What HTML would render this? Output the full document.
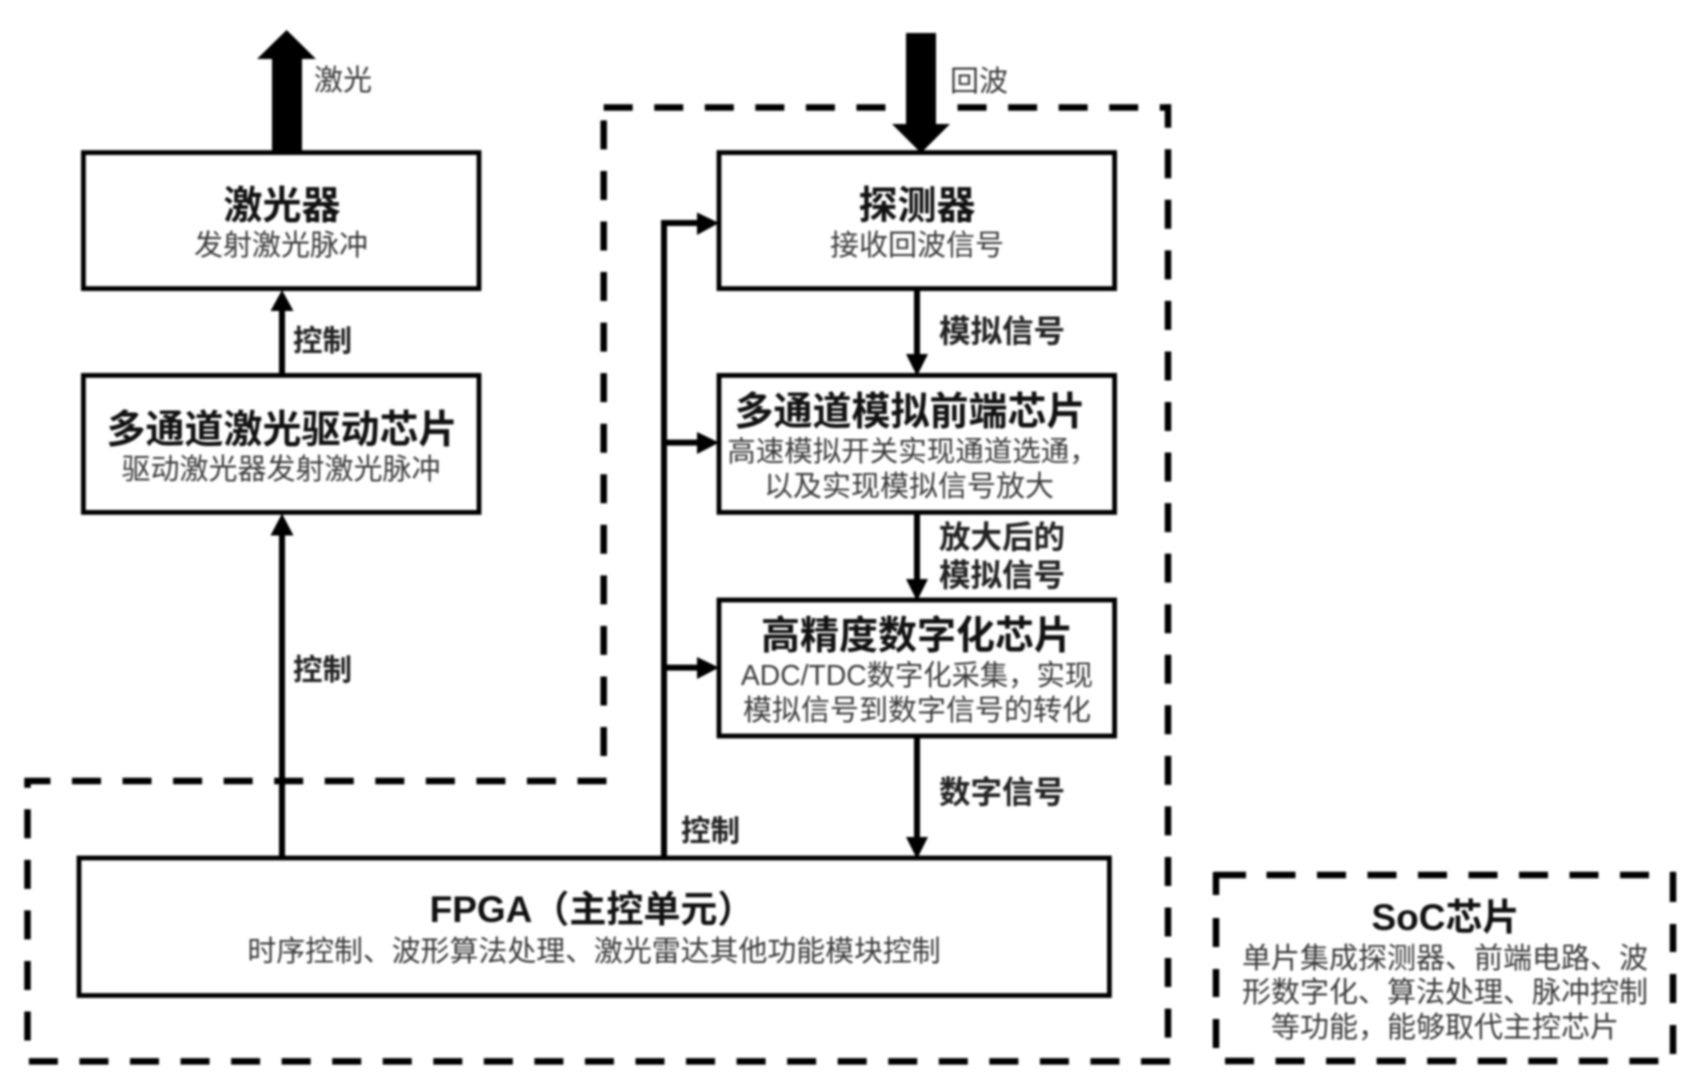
<!DOCTYPE html>
<html lang="zh-CN">
<head>
<meta charset="utf-8">
<title>激光雷达芯片框图</title>
<style>
html,body{margin:0;padding:0;background:#fff;width:1705px;height:1085px;overflow:hidden}
svg{display:block;filter:blur(1px)}
text{font-family:"Liberation Sans","Noto Sans CJK SC",sans-serif;text-anchor:middle}
.t{font-size:39px;font-weight:700;fill:#111}
.s{font-size:29px;font-weight:400;fill:#3a3a3a}
.l{font-size:31.5px;font-weight:700;fill:#222;text-anchor:start}
.k{font-size:29.5px;font-weight:700;fill:#222;text-anchor:start}
.n{font-size:29px;font-weight:400;fill:#3a3a3a;text-anchor:start}
.box{fill:#fff;stroke:#000;stroke-width:4.8}
.d{stroke:#000;stroke-width:6.5;stroke-dasharray:29 21.55;fill:none}
.c{stroke:#000;stroke-width:6;fill:none}
</style>
</head>
<body>
<svg width="1705" height="1085" viewBox="0 0 1705 1085" xmlns="http://www.w3.org/2000/svg">
<rect width="1705" height="1085" fill="#fff"/>

<!-- dashed region -->
<line class="d" x1="603.7" y1="107.5" x2="1171" y2="107.5"/>
<line class="d" x1="1168" y1="104.3" x2="1168" y2="1040" stroke-dashoffset="5.6"/>
<line class="d" x1="1170" y1="1061.4" x2="28" y2="1061.4"/>
<line class="d" x1="27.5" y1="1040.5" x2="27.5" y2="778"/>
<line class="d" x1="606.5" y1="781" x2="24.5" y2="781"/>
<line class="d" x1="603.7" y1="756" x2="603.7" y2="118"/>

<!-- SoC dashed -->
<line class="d" x1="1213.5" y1="875" x2="1675" y2="875" stroke-dashoffset="-1" style="stroke-dasharray:31.5 20.5 29 21.5 29 21.5 29 21.5 29 21.5 29 21.5 29 21.5 29 21.5 29 21.5"/>
<line class="d" x1="1225" y1="1061" x2="1670" y2="1061"/>
<line class="d" x1="1216" y1="872" x2="1216" y2="1050" style="stroke-dasharray:23 23 29 22 28 22 29 22"/>
<line class="d" x1="1673" y1="872" x2="1673" y2="1056" style="stroke-dasharray:30 22 28 22 29 22 29 22"/>

<!-- connectors -->
<line class="c" x1="282" y1="375" x2="282" y2="308"/>
<polygon points="282,290 293.5,311 270.5,311"/>
<line class="c" x1="282" y1="857" x2="282" y2="532"/>
<polygon points="282,513.5 293.5,535.5 270.5,535.5"/>
<polyline class="c" points="664,857 664,223 700,223"/>
<polygon points="719,223 697,212.5 697,235"/>
<line class="c" x1="664" y1="442.6" x2="700" y2="442.6"/>
<polygon points="719,442.6 697,432 697,454"/>
<line class="c" x1="664" y1="667.6" x2="700" y2="667.6"/>
<polygon points="719,667.6 697,657 697,679"/>
<line class="c" x1="917" y1="288" x2="917" y2="356"/>
<polygon points="917,376 928,354 906,354"/>
<line class="c" x1="917" y1="512" x2="917" y2="581"/>
<polygon points="917,601 928,579 906,579"/>
<line class="c" x1="917" y1="736" x2="917" y2="838"/>
<polygon points="917,859 928,837 906,837"/>

<!-- thick arrows -->
<polygon points="286.6,30 316,59 302,59 302,152 272,152 272,59 257,59"/>
<polygon points="906,33 936,33 936,124 950,124 921,153 892,124 906,124"/>

<!-- boxes -->
<rect class="box" x="83.4" y="152.6" width="395.6" height="136"/>
<rect class="box" x="83.4" y="375.4" width="395.6" height="137"/>
<rect class="box" x="719" y="152.6" width="395.6" height="136"/>
<rect class="box" x="719" y="375.4" width="395.6" height="137"/>
<rect class="box" x="719" y="600" width="395.6" height="136"/>
<rect class="box" x="79" y="858" width="1030.4" height="137.5"/>

<!-- labels -->
<text class="n" x="314" y="90">激光</text>
<text class="n" x="950" y="91">回波</text>

<text class="t" x="282" y="219">激光器</text>
<text class="s" x="281" y="255">发射激光脉冲</text>

<text class="t" x="282" y="443">多通道激光驱动芯片</text>
<text class="s" x="281" y="479">驱动激光器发射激光脉冲</text>

<text class="t" x="917" y="219">探测器</text>
<text class="s" x="917" y="255">接收回波信号</text>

<text class="t" x="910" y="425">多通道模拟前端芯片</text>
<text class="s" x="912.5" y="461" style="font-size:28.5px">高速模拟开关实现通道选通，</text>
<text class="s" x="909" y="496">以及实现模拟信号放大</text>

<text class="t" x="917" y="649">高精度数字化芯片</text>
<text class="s" x="917" y="685" style="font-size:28.3px">ADC/TDC数字化采集，实现</text>
<text class="s" x="917" y="720">模拟信号到数字信号的转化</text>

<text class="t" x="592" y="922" style="font-size:37px">FPGA（主控单元）</text>
<text class="s" x="594" y="961" style="font-size:28.9px">时序控制、波形算法处理、激光雷达其他功能模块控制</text>

<text class="t" x="1445.5" y="930" style="font-size:37px">SoC芯片</text>
<text class="s" x="1445" y="968">单片集成探测器、前端电路、波</text>
<text class="s" x="1445" y="1002">形数字化、算法处理、脉冲控制</text>
<text class="s" x="1445" y="1037">等功能，能够取代主控芯片</text>

<text class="k" x="293" y="351">控制</text>
<text class="k" x="293" y="680">控制</text>
<text class="k" x="681" y="841">控制</text>
<text class="l" x="939" y="342">模拟信号</text>
<text class="l" x="939" y="548">放大后的</text>
<text class="l" x="939" y="586">模拟信号</text>
<text class="l" x="939" y="803">数字信号</text>
</svg>
</body>
</html>
